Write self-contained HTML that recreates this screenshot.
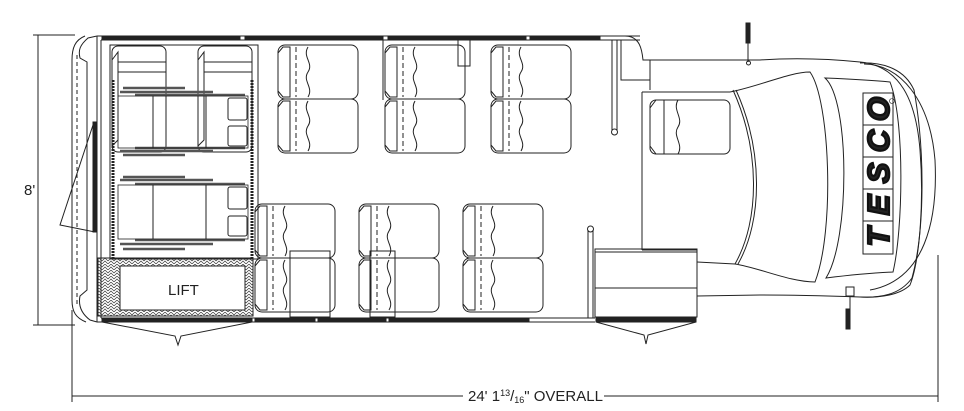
<!DOCTYPE html>
<html><head><meta charset="utf-8"><style>
html,body{margin:0;padding:0;background:#fff;width:964px;height:411px;overflow:hidden}
svg{display:block}
text{font-family:"Liberation Sans",sans-serif;fill:#222}
</style></head><body>
<svg width="964" height="411" viewBox="0 0 964 411" xmlns="http://www.w3.org/2000/svg" fill="none" stroke="#222" stroke-width="1">
<defs>
<g id="seat">
  <rect x="0" y="0" width="80" height="54" rx="7"/>
  <path d="M0,8 L5,2 L12,2 L12,52 L5,52 L0,46"/>
  <path d="M18,2 V52" stroke-dasharray="5,3"/>
  <path d="M30,2 C24,12 36,18 30,27 C24,36 36,42 30,52"/>
</g>
<g id="pair">
  <use href="#seat" x="0" y="0"/>
  <use href="#seat" x="0" y="54"/>
</g>
<pattern id="hatch" width="6" height="6" patternUnits="userSpaceOnUse">
  <path d="M0,6 L3,3 L6,6 M0,3 L3,0 L6,3" stroke="#333" stroke-width="0.7"/>
</pattern>
</defs>

<!-- left dimension -->
<line x1="38" y1="35" x2="38" y2="325"/>
<line x1="33" y1="35" x2="75" y2="35"/>
<line x1="33" y1="325" x2="75" y2="325"/>
<text x="24" y="195" font-size="15" stroke="none">8'</text>

<!-- bottom dimension -->
<line x1="72" y1="310" x2="72" y2="402"/>
<line x1="938" y1="255" x2="938" y2="402"/>
<line x1="72" y1="396" x2="463" y2="396"/>
<line x1="604" y1="396" x2="938" y2="396"/>
<text x="468" y="401" font-size="15" stroke="none">24' 1<tspan font-size="9" dy="-5">13</tspan><tspan dy="5">/</tspan><tspan font-size="9" dy="2">16</tspan><tspan dy="-2">" OVERALL</tspan></text>

<!-- rear bumper -->
<path d="M85,36 C75,40 72,48 72,60 V300 C72,312 76,318 86,322"/>
<path d="M97,36 L88,38 C80,45 78,50 80,58 L87,62 V290 L80,296 C78,306 82,314 90,320 L97,322"/>
<line x1="77" y1="55" x2="77" y2="305" stroke-dasharray="4,3"/>
<rect x="93" y="122" width="3" height="110" fill="#222"/>
<path d="M93,125 L60,225 L95,232"/>

<!-- main body walls -->
<line x1="97" y1="36" x2="640" y2="36"/>
<line x1="101" y1="40" x2="640" y2="40"/>
<line x1="101" y1="40" x2="101" y2="318"/>
<line x1="97" y1="36" x2="97" y2="322"/>
<rect x="102" y="36" width="138" height="3" fill="#222"/>
<rect x="245" y="36" width="138" height="3" fill="#222"/>
<rect x="388" y="36" width="138" height="3" fill="#222"/>
<rect x="530" y="36" width="70" height="3" fill="#222"/>
<line x1="97" y1="322" x2="595" y2="322"/>
<line x1="101" y1="318" x2="595" y2="318"/>
<rect x="102" y="318" width="150" height="4" fill="#222"/>
<rect x="255" y="318" width="60" height="4" fill="#222"/>
<rect x="318" y="318" width="68" height="4" fill="#222"/>
<rect x="389" y="318" width="140" height="4" fill="#222"/>
<rect x="596" y="318" width="100" height="4" fill="#222"/>
<path d="M102,322 L175,336 L178,345 L181,336 L252,322"/>
<path d="M596,322 L644,335 L646,344 L648,335 L696,322"/>

<!-- wheelchair area -->
<rect x="110" y="45" width="148" height="214"/>
<line x1="113" y1="80" x2="113" y2="258" stroke-width="3" stroke-dasharray="2,1"/>
<line x1="252" y1="80" x2="252" y2="258" stroke-width="3" stroke-dasharray="2,1"/>
<rect x="112" y="46" width="54" height="106" rx="6"/>
<rect x="198" y="46" width="54" height="106" rx="6"/>
<path d="M112,60 L118,52 L118,140 L112,146"/>
<path d="M198,60 L204,52 L204,140 L198,146"/>
<line x1="118" y1="62" x2="166" y2="62"/><line x1="118" y1="72" x2="166" y2="72"/>
<line x1="204" y1="62" x2="252" y2="62"/><line x1="204" y1="72" x2="252" y2="72"/>
<g stroke-width="2.5" stroke="#555">
<line x1="123" y1="88" x2="185" y2="88"/><line x1="120" y1="92" x2="213" y2="92"/><line x1="135" y1="95" x2="245" y2="95"/>
<line x1="123" y1="155" x2="185" y2="155"/><line x1="120" y1="151" x2="213" y2="151"/><line x1="135" y1="148" x2="245" y2="148"/>
<line x1="123" y1="177" x2="185" y2="177"/><line x1="120" y1="180" x2="213" y2="180"/><line x1="135" y1="184" x2="245" y2="184"/>
<line x1="123" y1="249" x2="185" y2="249"/><line x1="120" y1="244" x2="213" y2="244"/><line x1="135" y1="240" x2="245" y2="240"/>
</g>
<rect x="118" y="96" width="130" height="52" stroke-width="0.8"/>
<line x1="153" y1="96" x2="153" y2="148"/><line x1="206" y1="96" x2="206" y2="148"/>
<rect x="228" y="98" width="19" height="22" rx="2"/><rect x="228" y="126" width="19" height="20" rx="2"/>
<rect x="118" y="185" width="130" height="54" stroke-width="0.8"/>
<line x1="153" y1="185" x2="153" y2="239"/><line x1="206" y1="185" x2="206" y2="239"/>
<rect x="228" y="187" width="19" height="22" rx="2"/><rect x="228" y="216" width="19" height="20" rx="2"/>

<!-- lift -->
<rect x="98" y="258" width="155" height="58" fill="url(#hatch)"/>
<rect x="120" y="266" width="125" height="44" fill="#fff"/>
<text x="168" y="295" font-size="15" stroke="none">LIFT</text>

<!-- seats -->
<use href="#pair" x="278" y="45"/>
<use href="#pair" x="385" y="45"/>
<use href="#pair" x="491" y="45"/>
<use href="#pair" x="255" y="204"/>
<use href="#pair" x="359" y="204"/>
<use href="#pair" x="463" y="204"/>
<rect x="290" y="251" width="40" height="66"/>
<rect x="370" y="251" width="25" height="66"/>
<line x1="383" y1="40" x2="383" y2="100"/>
<path d="M458,40 V66 H470 V40"/>

<!-- poles -->
<path d="M612,40 V130 M617,40 V130"/><circle cx="614.5" cy="132" r="3"/>
<path d="M588,230 V318 M593,230 V318"/><circle cx="590.5" cy="229" r="3"/>

<!-- entrance step -->
<rect x="595" y="249" width="102" height="68"/>
<line x1="595" y1="252" x2="697" y2="252"/>
<line x1="595" y1="288" x2="697" y2="288"/>

<!-- cab -->
<path d="M600,36 H625 C640,36 642,50 643,60 L650,60 V90 M650,60 L760,60 C790,58 820,58 860,62 C900,66 916,100 920,150 C924,200 920,260 910,285 C900,295 880,298 860,297 C830,296 800,295 760,295 L697,296"/>
<path d="M621,40 V80 H650"/>
<line x1="642" y1="92" x2="642" y2="250"/>
<line x1="642" y1="92" x2="730" y2="92"/>
<line x1="642" y1="250" x2="697" y2="250"/>
<path d="M730,92 C760,86 790,72 810,72 C830,100 835,230 815,282 C790,282 760,268 735,264 L697,262"/>
<path d="M733,90 C760,150 760,220 735,264"/>
<path d="M736,90 C763,150 763,220 738,264"/>
<path d="M825,78 C850,100 850,240 826,278 C850,275 870,273 893,272 C903,230 905,120 890,82 C870,80 850,79 825,78 Z"/>
<path d="M860,63 C885,62 905,70 914,90 C925,150 925,230 912,278 C900,295 880,298 860,297"/>
<path d="M864,64 C900,64 930,100 935,160 C938,220 925,280 870,290"/>
<g fill="#fff">
<rect x="863" y="93" width="30" height="32"/>
<rect x="863" y="125" width="30" height="32"/>
<rect x="863" y="157" width="30" height="32"/>
<rect x="863" y="189" width="30" height="32"/>
<rect x="863" y="221" width="30" height="33"/>
</g>
<g font-size="31" font-weight="900" font-style="italic" text-anchor="middle" stroke="#111" stroke-width="2.2" fill="#111">
<text transform="translate(889,237) rotate(-90)">T</text>
<text transform="translate(889,205) rotate(-90)">E</text>
<text transform="translate(889,173) rotate(-90)">S</text>
<text transform="translate(889,141) rotate(-90)">C</text>
<text transform="translate(889,109) rotate(-90)">O</text>
</g>
<circle cx="892" cy="101" r="2.5" stroke-width="0.6"/>
<!-- mirrors -->
<rect x="746" y="23" width="4" height="20" fill="#222"/><path d="M748,42 V62"/><circle cx="748.5" cy="63" r="2"/>
<path d="M846,287 V296 H854 V287 Z"/><path d="M850,296 V316"/><rect x="846" y="309" width="4" height="20" fill="#222"/>
<!-- driver seat -->
<rect x="650" y="100" width="80" height="54" rx="6"/>
<path d="M650,108 L656,100 L664,100 L664,154 L656,154 L650,146"/>
<path d="M678,100 C672,110 684,118 678,127 C672,136 684,144 678,154"/>
</svg>
</body></html>
